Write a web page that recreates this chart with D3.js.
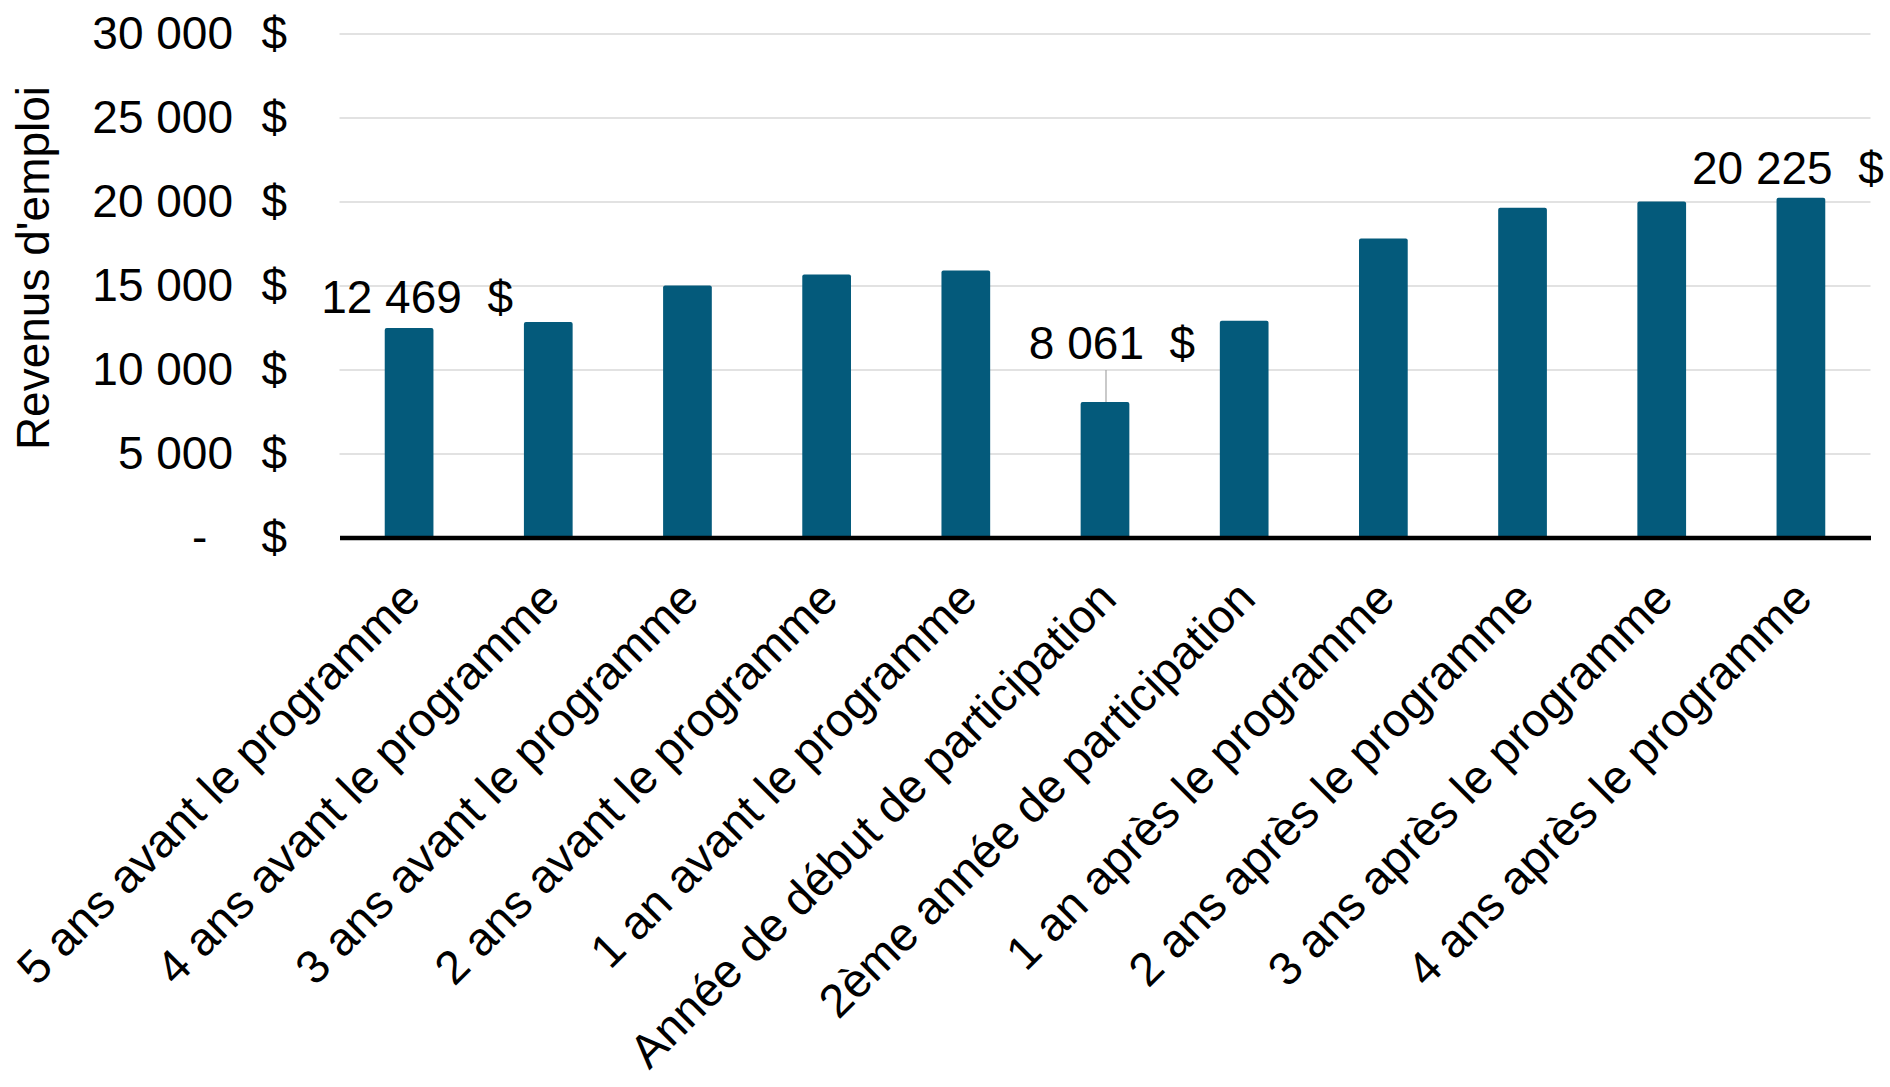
<!DOCTYPE html>
<html>
<head>
<meta charset="utf-8">
<script src="https://cdn.jsdelivr.net/npm/d3@7"></script>
<style>
  body { margin: 0; background: #fff; }
  svg { display: block; font-family: 'Liberation Sans', Arial, sans-serif; }
  text { white-space: pre; }
</style>
</head>
<body>
<main></main>
<script>
const periods = [
  '5 ans avant le programme',
  '4 ans avant le programme',
  '3 ans avant le programme',
  '2 ans avant le programme',
  '1 an avant le programme',
  'Année de début de participation',
  '2ème année de participation',
  '1 an après le programme',
  '2 ans après le programme',
  '3 ans après le programme',
  '4 ans après le programme',
];

const earnings = [12469, 12830, 15000, 15655, 15900, 8061, 12900, 17800, 19630, 20000, 20225];

const yTicks = [0, 5000, 10000, 15000, 20000, 25000, 30000];

// bars that carry a value label
const labelled = [0, 5, 10];

const dimensions = {
  width: 1890,
  height: 1087,
  margin: {
    top: 33.5,
    right: 19.5,
    bottom: 549.5,
    left: 339.5,
  },
};

dimensions.boundedRight = dimensions.width - dimensions.margin.right;
dimensions.baseline = dimensions.height - dimensions.margin.bottom;

const fontSize = 46;
const barColor = '#045a7b';

// label nudges, relative to bar centre and bar top
const labelNudge = {
  0: { dx: 8, dy: -15 },
  5: { dx: 7, dy: -43, leader: true },
  10: { dx: -13, dy: -14 },
};

const locale = d3.formatLocale({
  decimal: ',',
  thousands: ' ',
  grouping: [3],
  currency: ['', ' $'],
});
const numFormat = locale.format(',.0f');

const xScale = d3
  .scaleBand()
  .domain(periods)
  .range([dimensions.margin.left, dimensions.boundedRight])
  .paddingInner(0.65)
  .paddingOuter(0.325);

const yScale = d3
  .scaleLinear()
  .domain([0, 30000])
  .range([dimensions.baseline, dimensions.margin.top]);

const svg = d3
  .select('main')
  .append('svg')
  .attr('width', dimensions.width)
  .attr('height', dimensions.height);

// y axis labels + gridlines
const yAxis = d3
  .axisLeft(yScale)
  .tickValues(yTicks)
  .tickSize(0)
  .tickPadding(106.5)
  .tickFormat(d => (d === 0 ? '-' : numFormat(d)));

const yAxisGroup = svg
  .append('g')
  .attr('transform', `translate(${dimensions.margin.left} 0)`)
  .call(yAxis);

yAxisGroup.select('.domain').remove();

yAxisGroup
  .selectAll('g.tick text')
  .attr('fill', '#000')
  .attr('font-size', fontSize)
  .attr('font-family', null)
  .attr('dx', d => (d === 0 ? -0.556 * fontSize : 0));

yAxisGroup
  .selectAll('g.tick')
  .append('text')
  .attr('x', -52.5)
  .attr('dy', '0.32em')
  .attr('text-anchor', 'end')
  .attr('fill', '#000')
  .attr('font-size', fontSize)
  .text('$');

yAxisGroup
  .selectAll('g.tick')
  .filter(d => d !== 0)
  .append('path')
  .attr('d', `M 0 0 H ${dimensions.boundedRight - dimensions.margin.left}`)
  .attr('stroke', '#d9d9d9')
  .attr('stroke-width', 1.5);

// bars
svg
  .append('g')
  .selectAll('rect')
  .data(periods)
  .join('rect')
  .attr('x', d => xScale(d))
  .attr('width', xScale.bandwidth())
  .attr('y', (d, i) => yScale(earnings[i]))
  .attr('height', (d, i) => dimensions.baseline - yScale(earnings[i]))
  .attr('rx', 2)
  .attr('fill', barColor);

// x axis
const xAxis = d3.axisBottom(xScale).tickSize(0).tickSizeOuter(0);

const xAxisGroup = svg
  .append('g')
  .attr('transform', `translate(0 ${dimensions.baseline})`)
  .call(xAxis);

xAxisGroup
  .select('.domain')
  .attr('stroke', '#000')
  .attr('stroke-width', 4.5);

xAxisGroup
  .selectAll('g.tick text')
  .attr('y', 0)
  .attr('dy', '0.35em')
  .attr('transform', 'translate(2 52) rotate(-45)')
  .attr('text-anchor', 'end')
  .attr('fill', '#000')
  .attr('font-size', 47)
  .attr('font-family', null);

// value labels
const labelGroup = svg.append('g');

labelled.forEach(i => {
  const nudge = labelNudge[i];
  const cx = xScale(periods[i]) + xScale.bandwidth() / 2;
  const top = yScale(earnings[i]);
  const baseY = top + nudge.dy;

  if (nudge.leader) {
    labelGroup
      .append('path')
      .attr('d', `M ${cx + 1} ${baseY + 11} V ${top}`)
      .attr('stroke', '#a6a6a6')
      .attr('stroke-width', 1.2);
  }

  labelGroup
    .append('text')
    .attr('x', cx + nudge.dx)
    .attr('y', baseY)
    .attr('text-anchor', 'middle')
    .attr('fill', '#000')
    .attr('font-size', fontSize)
    .text(`${numFormat(earnings[i])}  $`);
});

// y axis title
svg
  .append('text')
  .attr('transform', 'translate(49 268) rotate(-90)')
  .attr('text-anchor', 'middle')
  .attr('fill', '#000')
  .attr('font-size', fontSize)
  .text("Revenus d'emploi");
</script>
</body>
</html>
